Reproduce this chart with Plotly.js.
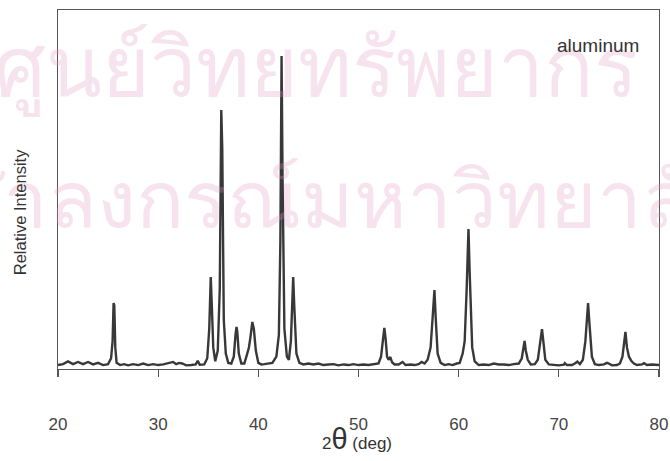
<!DOCTYPE html>
<html>
<head>
<meta charset="utf-8">
<script src="https://cdn.plot.ly/plotly-3.0.1.min.js"></script>
<style>
html,body{margin:0;padding:0;background:#fff;}
#chart{width:670px;height:461px;}
</style>
</head>
<body>
<div id="chart"></div>
<script>
// Diffraction trace: 2-theta (deg) and relative intensity
const twoTheta = [
  20.0,20.5,21.0,21.5,22.0,22.5,23.0,23.5,24.0,24.5,25.0,25.3,25.45,25.55,25.62,25.72,25.85,26.2,26.6,27.0,
  27.5,28.0,28.5,29.0,29.5,30.0,30.5,31.0,31.5,31.8,32.1,32.4,32.8,33.3,33.75,33.95,34.15,34.6,34.9,35.1,
  35.25,35.35,35.5,35.7,35.95,36.15,36.3,36.4,36.55,36.75,37.0,37.3,37.55,37.72,37.82,37.9,38.05,38.3,38.6,38.85,
  39.05,39.2,39.4,39.55,39.75,40.0,40.3,40.6,41.0,41.4,41.8,42.05,42.2,42.32,42.42,42.6,42.85,43.05,43.25,43.4,
  43.48,43.58,43.8,44.1,44.5,45.0,45.5,46.0,46.5,47.0,47.5,48.0,48.5,49.0,49.5,50.0,50.5,51.0,51.5,52.0,
  52.25,52.45,52.58,52.7,52.85,53.0,53.18,53.35,53.6,54.0,54.4,54.7,55.2,55.6,56.0,56.3,56.6,56.9,57.2,57.45,
  57.58,57.7,57.9,58.2,58.6,59.0,59.4,59.8,60.1,60.4,60.6,60.8,60.98,61.1,61.35,61.6,62.0,62.5,63.0,63.5,
  64.0,64.5,65.0,65.5,66.0,66.3,66.48,66.58,66.7,66.9,67.2,67.6,67.9,68.15,68.32,68.45,68.65,69.0,69.5,70.0,
  70.5,70.6,70.8,71.3,71.6,71.85,72.1,72.4,72.65,72.92,73.05,73.3,73.6,74.0,74.5,74.8,75.0,75.3,75.8,76.1,
  76.35,76.55,76.65,76.8,77.0,77.25,77.5,77.8,78.3,78.5,78.8,79.3,79.7,80.0
];
const intensity = [
  0.3,0.6,1.5,0.6,1.3,0.6,1.3,0.5,1.0,0.3,0.6,2.5,8,20.3,19.5,6,1,0.3,0.6,0.2,
  0.6,0.3,0.8,0.3,0.6,0.3,0.5,0.8,1.3,0.6,1.0,0.8,0.2,0.3,0.5,1.7,0.4,0.5,2.5,12,
  28.7,20,6,1.5,5,25,82.6,70,15,4,1.0,0.8,3,10,12.6,11,4,0.8,0.8,3.5,
  5.8,9,14.2,12,5,1.0,0.5,0.6,0.8,1.0,3,10,40,100,60,12,3,2,8,25,
  28.7,20,4,1.0,0.5,0.8,0.5,0.8,0.3,0.5,0.6,0.2,0.5,0.3,0.6,0.3,0.5,0.3,0.6,0.8,
  3,8,12.3,9,3,2.0,2.9,1.2,0.5,0.5,1.3,0.3,0.5,0.3,0.6,1.3,0.8,2,6,18,
  24.5,16,4,1.0,0.3,0.6,0.3,0.8,1.0,4,8,25,44.2,30,6,1.5,0.3,0.5,0.3,0.8,
  0.5,0.5,0.3,0.6,0.8,2.5,7,8.1,5,2,0.5,0.6,2,7,11.9,8,2,0.5,0.3,0.2,
  0.4,0.9,0.3,0.3,0.8,1.4,0.6,2,8,20.3,14,3,0.6,0.3,0.5,1.0,0.8,0.2,0.3,0.8,
  3,9,11,6,3,1.6,0.8,0.3,0.5,0.9,0.3,0.5,0.5,0.3
];
const xTicks = [20,30,40,50,60,70,80];
const sampleLabel = 'aluminum';
const xTitle = '<span style="font-size:17px">2</span><span style="font-size:29px">θ</span><span style="font-size:17px"> (deg)</span>';
const yTitle = 'Relative Intensity';
const watermark1 = 'ศูนย์วิทยทรัพยากร';
const watermark2 = 'จุฬาลงกรณ์มหาวิทยาลัย';

const font = 'Liberation Sans, Arial, sans-serif';
const wmColor = 'rgba(220,150,190,0.27)';

const trace = {
  x: twoTheta, y: intensity, type: 'scatter', mode: 'lines',
  line: {color: '#383838', width: 2.4},
  hoverinfo: 'skip', showlegend: false
};

const layout = {
  width: 670, height: 461,
  margin: {l: 58, r: 11, t: 10, b: 92, pad: 0},
  paper_bgcolor: '#fff', plot_bgcolor: '#fff',
  font: {family: font, color: '#444'},
  showlegend: false,
  xaxis: {
    range: [20, 80], tickvals: xTicks, ticktext: xTicks.map(String),
    ticks: 'outside', ticklen: 7, tickwidth: 1.2, tickcolor: '#555',
    tickfont: {size: 17, color: '#444', family: font},
    ticklabelstandoff: 32,
    showline: true, linecolor: '#555', linewidth: 1.3, mirror: true,
    showgrid: false, zeroline: false, fixedrange: true
  },
  yaxis: {
    range: [-0.97, 114.84],
    showticklabels: false, ticks: '',
    showline: true, linecolor: '#555', linewidth: 1.3, mirror: true,
    showgrid: false, zeroline: false, fixedrange: true
  },
  annotations: [
    {text: watermark1, xref: 'paper', yref: 'paper', x: -0.11, y: 0.85, xanchor: 'left', yanchor: 'middle',
     showarrow: false, font: {size: 82, color: wmColor, family: 'Noto Sans, DejaVu Sans, sans-serif'}},
    {text: watermark2, xref: 'paper', yref: 'paper', x: -0.265, y: 0.48, xanchor: 'left', yanchor: 'middle',
     showarrow: false, font: {size: 80, color: wmColor, family: 'Noto Sans, DejaVu Sans, sans-serif'}},
    {text: sampleLabel, xref: 'paper', yref: 'paper', x: 0.97, y: 0.902, xanchor: 'right', yanchor: 'middle',
     showarrow: false, font: {size: 19, color: '#333', family: font}},
    {text: yTitle, xref: 'paper', yref: 'paper', x: -0.063, y: 0.437, xanchor: 'center', yanchor: 'middle',
     textangle: -90, showarrow: false, font: {size: 16.5, color: '#333', family: font}},
    {text: xTitle, xref: 'paper', yref: 'paper', x: 0.498, y: -0.195, xanchor: 'center', yanchor: 'middle',
     showarrow: false, font: {size: 17, color: '#333', family: font}}
  ]
};

Plotly.newPlot('chart', [trace], layout, {staticPlot: true, displayModeBar: false});
</script>
</body>
</html>
